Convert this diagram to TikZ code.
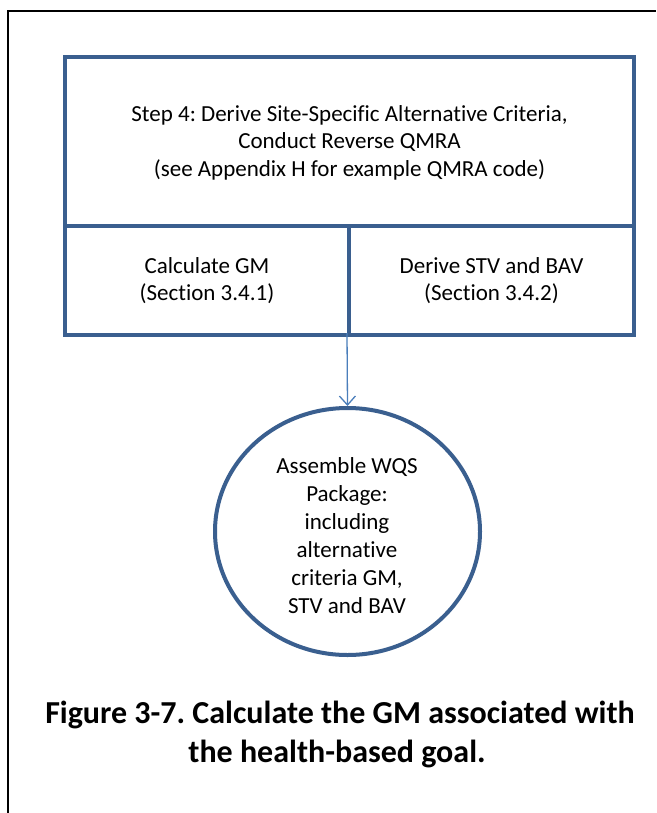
\documentclass[tikz,border=0pt]{standalone}
\usepackage{fontspec}
\setmainfont[RawFeature=-liga]{Carlito}
\usetikzlibrary{arrows.meta,shapes.geometric}
\definecolor{boxblue}{HTML}{3A5F8F}
\definecolor{arrowblue}{HTML}{4A7EBB}
\frenchspacing
\begin{document}
\begin{tikzpicture}[x=1pt,y=-1pt,
  boxline/.style={draw=boxblue,line width=4pt},
  txt/.style={align=center,font=\fontsize{23}{27.5}\selectfont,inner sep=0pt},
  captxt/.style={anchor=base,font=\fontsize{32}{39}\selectfont\bfseries,inner sep=0pt}]
\useasboundingbox (0,0) rectangle (656,813);
\fill[white] (0,0) rectangle (656,813);
\draw[black,line width=2pt] (8,813) -- (8,11) -- (656,11);
% boxes
\node[boxline,minimum width=569pt,minimum height=169pt,anchor=north west,inner sep=0pt] (top) at (63,55) {};
\node[boxline,minimum width=284pt,minimum height=109pt,anchor=north west,inner sep=0pt] (gm) at (63,224) {};
\node[boxline,minimum width=285pt,minimum height=109pt,anchor=north west,inner sep=0pt] (stv) at (347,224) {};
\node[txt] (toptxt) at (top.center) [yshift=-1pt] {Step 4: Derive Site-Specific Alternative Criteria,\\Conduct Reverse QMRA\\(see Appendix H for example QMRA code)};
\node[txt] (gmtxt) at (gm.center) {Calculate GM\\(Section 3.4.1)};
\node[txt] (stvtxt) at (stv.center) {Derive STV and BAV\\(Section 3.4.2)};
% ellipse
\node[boxline,ellipse,minimum width=265pt,minimum height=247pt,inner sep=0pt] (wqs) at (347.5,531.5) {};
\node[txt,font=\fontsize{23}{28}\selectfont] (wqstxt) at (347,536) {Assemble WQS\\Package:\\including\\alternative\\criteria GM,\\STV and BAV};
\coordinate (split) at (347,333);
\draw[arrowblue,line width=1.3pt,-{Straight Barb[length=9pt,width=16pt,line width=1.3pt]}] (split) -- (wqs.north);
% caption
\node[captxt] (cap1) at (340,723) {Figure 3-7. Calculate the GM associated with};
\node[captxt] (cap2) at (337,762) {the health-based goal.};
\end{tikzpicture}
\end{document}
